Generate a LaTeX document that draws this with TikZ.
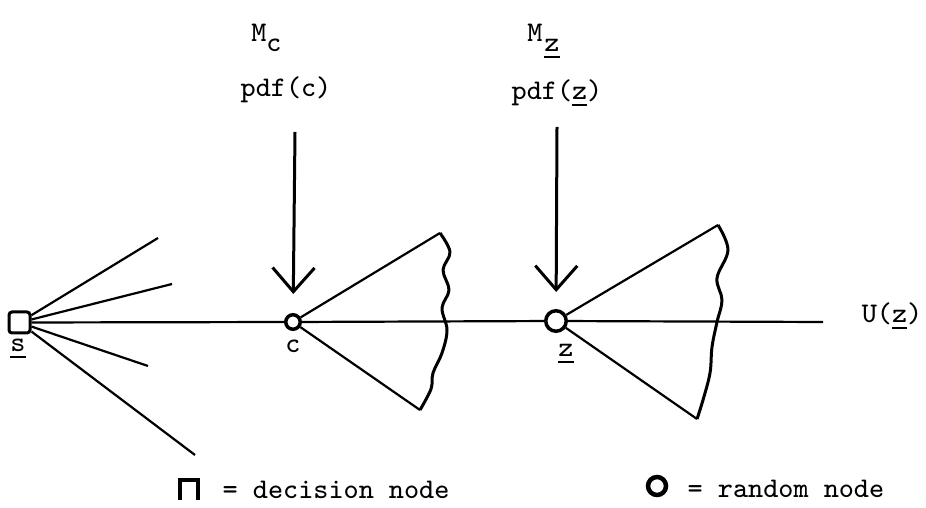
\documentclass[tikz,border=0pt]{standalone}
\usepackage{tikz}
\usetikzlibrary{arrows.meta,positioning,calc}
\tikzset{
    dtdecision/.style={draw, rectangle, rounded corners=0.3mm, line width=0.3mm, minimum size=2.1mm, inner sep=0pt},
    dtchance/.style={draw, circle, line width=0.35mm, inner sep=0pt},
    dtlabel/.style={font=\fontsize{8.1}{10}\selectfont\ttfamily, inner sep=0pt},
    dtline/.style={line width=0.22mm},
    dtwave/.style={line width=0.3mm, line join=round},
    dtarrow/.style={line width=0.3mm, -{Straight Barb[length=2.4mm,width=4.2mm,line width=0.3mm]}}
}

\begin{document}
\begin{tikzpicture}[x=0.1mm, y=-0.1mm]
        \useasboundingbox (0,0) rectangle (926,508);

        \node[dtdecision] (s) at (19.5,322.5) {};
        \node[dtchance, minimum size=1.45mm] (c) at (293,322) {};
        \node[dtchance, minimum size=2.05mm] (z) at (556,321) {};
        \coordinate (uend) at (823,322);

        \coordinate (f1) at (158,238);
        \coordinate (f2) at (172,284);
        \coordinate (f3) at (148,366);
        \coordinate (f4) at (195,455);
        \foreach \f in {f1,f2,f3,f4}
            \draw[dtline] (s) -- (\f);

        \draw[dtline] (s) -- (c) -- (z) -- (uend);

        \coordinate (cu) at (440,233);
        \coordinate (cl) at (420,410);
        \coordinate (zu) at (718,225);
        \coordinate (zl) at (697,419);
        \foreach \a/\b in {c/cu,c/cl,z/zu,z/zl}
            \draw[dtline] (\a) -- (\b);

        \draw[dtwave] plot[smooth, tension=0.6] coordinates {(440,233) (450,252) (443,270) (449,290) (442,308) (447,330) (442,353) (433,373) (431,389) (420,410)};
        \draw[dtwave] plot[smooth, tension=0.6] coordinates {(718,225) (728,250) (717,278) (722,300) (717,322) (712,347) (710,373) (703,400) (697,419)};

        \coordinate (ctop) at (295,132);
        \coordinate (ztop) at (557,127);
        \draw[dtarrow, shorten >=1.9mm] (ctop) -- (c);
        \draw[dtarrow, shorten >=1.7mm] (ztop) -- (z);

        \node[dtlabel, anchor=base] (mc) at (259,42) {M};
        \node[dtlabel, anchor=base] (mcsub) at (274,52) {c};
        \node[dtlabel, anchor=base] (pdfc) at (286,97) {pdf(c)};
        \node[dtlabel, anchor=base] (mz) at (535,42) {M};
        \node[dtlabel, anchor=base] (mzsub) at (552,52) {\underline{z}};
        \node[dtlabel, anchor=base] (pdfz) at (557,100) {pdf(\underline{z})};

        \node[dtlabel, anchor=base] (slab) at (18,352) {\underline{s}};
        \node[dtlabel, anchor=base] (clab) at (293,353) {c};
        \node[dtlabel, anchor=base] (zlab) at (566,357) {\underline{z}};
        \node[dtlabel, anchor=base] (ulab) at (892,323) {U(\underline{z})};

        \draw[line width=0.35mm] (180,500) -- (180,480) -- (198,480) -- (198,500);
        \node[dtlabel, anchor=base west] (dkey) at (222,498) {= decision node};
        \node[dtchance, minimum size=1.8mm, line width=0.45mm] (okey) at (657,486) {};
        \node[dtlabel, anchor=base west] (rkey) at (687,497) {= random node};
    \end{tikzpicture}
\end{document}
